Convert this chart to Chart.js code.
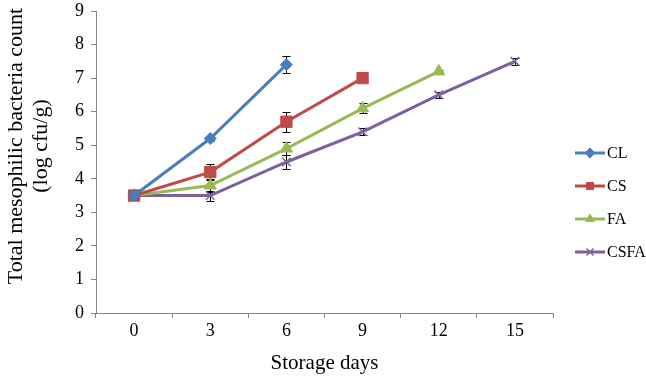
<!DOCTYPE html>
<html lang="en">
<head>
    <meta charset="UTF-8">
    <title>Total mesophilic bacteria count</title>
    <style>
        body { margin: 0; padding: 0; background: #ffffff; }
        .chart-box { width: 646px; height: 380px; position: relative; }
    </style>
</head>
<body>
    <div class="chart-box">
        <canvas id="bacteriaChart" width="646" height="380"></canvas>
    </div>

    <script src="https://cdn.jsdelivr.net/npm/chart.js"></script>
    <script>
        // Storage days on the x axis
        const days = ['0', '3', '6', '9', '12', '15'];
        const yTicks = [0, 1, 2, 3, 4, 5, 6, 7, 8, 9];
        const yTitleLines = ['Total mesophilic bacteria count', '(log cfu/g)'];

        // Means (log cfu/g)
        const clValues   = [3.5, 5.2, 7.4, null, null, null];
        const csValues   = [3.5, 4.2, 5.7, 7.0, null, null];
        const faValues   = [3.5, 3.8, 4.9, 6.1, 7.2, null];
        const csfaValues = [3.5, 3.5, 4.5, 5.4, 6.5, 7.5];

        // Error bar half-heights
        const clErrors   = [0.05, 0.08, 0.25, null, null, null];
        const csErrors   = [0.05, 0.25, 0.3, 0.05, null, null];
        const faErrors   = [0.05, 0.2, 0.2, 0.15, 0.05, null];
        const csfaErrors = [0.05, 0.15, 0.2, 0.1, 0.08, 0.1];

        const serif = "'Liberation Serif', 'Times New Roman', serif";

        function makeSeries(label, data, errors, color, pointStyle, radius) {
            return {
                label: label,
                data: data,
                errors: errors,
                borderColor: color,
                backgroundColor: color,
                pointBackgroundColor: color,
                pointBorderColor: color,
                borderWidth: 3,
                pointStyle: pointStyle,
                pointRadius: radius,
                pointBorderWidth: pointStyle === 'crossRot' ? 1.5 : 1,
                tension: 0,
                spanGaps: false
            };
        }

        // Vertical error bars with caps, drawn under the markers
        const errorBars = {
            id: 'errorBars',
            beforeDatasetsDraw(chart) {
                const c = chart.ctx;
                const yScale = chart.scales.y;
                c.save();
                c.strokeStyle = '#000000';
                c.lineWidth = 1;
                chart.data.datasets.forEach((ds, i) => {
                    const meta = chart.getDatasetMeta(i);
                    meta.data.forEach((pt, j) => {
                        const v = ds.data[j];
                        const e = ds.errors[j];
                        if (v == null || e == null) return;
                        const x = Math.round(pt.x) + 0.5;
                        const yTop = Math.round(yScale.getPixelForValue(v + e)) + 0.5;
                        const yBot = Math.round(yScale.getPixelForValue(v - e)) + 0.5;
                        c.beginPath();
                        c.moveTo(x, yTop); c.lineTo(x, yBot);
                        c.moveTo(x - 4, yTop); c.lineTo(x + 4, yTop);
                        c.moveTo(x - 4, yBot); c.lineTo(x + 4, yBot);
                        c.stroke();
                    });
                });
                c.restore();
            }
        };

        // Rotated two-line y title, centred a bit above the plot middle
        const yTitle = {
            id: 'yTitle',
            afterDraw(chart) {
                const c = chart.ctx;
                c.save();
                c.translate(0, 146);
                c.rotate(-Math.PI / 2);
                c.fillStyle = '#000000';
                c.font = '22px ' + serif;
                c.textAlign = 'center';
                c.textBaseline = 'middle';
                c.fillText(yTitleLines[0], 0, 16);
                c.fillText(yTitleLines[1], 0, 41);
                c.restore();
            }
        };

        // Legend drawn as line + marker, like the spreadsheet legend
        const lineLegend = {
            id: 'lineLegend',
            afterDraw(chart) {
                const c = chart.ctx;
                const x0 = 575, x1 = 605;
                const rowY = [153, 186, 219, 252];
                c.save();
                chart.data.datasets.forEach((ds, i) => {
                    const y = rowY[i];
                    c.strokeStyle = ds.borderColor;
                    c.fillStyle = ds.borderColor;
                    c.lineWidth = 3;
                    c.beginPath();
                    c.moveTo(x0, y); c.lineTo(x1, y);
                    c.stroke();
                    c.lineWidth = ds.pointBorderWidth;
                    Chart.helpers.drawPoint(c, {
                        pointStyle: ds.pointStyle,
                        radius: 5,
                        rotation: 0,
                        borderWidth: ds.pointBorderWidth
                    }, (x0 + x1) / 2, y);
                    c.fillStyle = '#000000';
                    c.font = '16px ' + serif;
                    c.textBaseline = 'middle';
                    c.textAlign = 'left';
                    c.fillText(ds.label, x1 + 2, y + 1);
                });
                c.restore();
            }
        };

        const ctx = document.getElementById('bacteriaChart').getContext('2d');
        new Chart(ctx, {
            type: 'line',
            data: {
                labels: days,
                datasets: [
                    makeSeries('CL', clValues, clErrors, '#4a7ebb', 'rectRot', 6),
                    makeSeries('CS', csValues, csErrors, '#be4b48', 'rect', 8),
                    makeSeries('FA', faValues, faErrors, '#98b954', 'triangle', 7),
                    makeSeries('CSFA', csfaValues, csfaErrors, '#7d60a0', 'crossRot', 6)
                ]
            },
            options: {
                responsive: false,
                animation: false,
                layout: { padding: { left: 0, right: 93, top: 11, bottom: 0 } },
                plugins: {
                    legend: { display: false },
                    tooltip: { enabled: false }
                },
                scales: {
                    x: {
                        type: 'category',
                        offset: true,
                        afterFit(scale) { scale.height = 67; },
                        grid: {
                            offset: true,
                            drawOnChartArea: false,
                            drawTicks: true,
                            tickLength: 5,
                            color: '#868686'
                        },
                        border: { color: '#868686', width: 1 },
                        ticks: {
                            color: '#000000',
                            font: { family: serif, size: 18 },
                            padding: 2,
                            maxRotation: 0
                        },
                        title: {
                            display: true,
                            text: 'Storage days',
                            color: '#000000',
                            font: { family: serif, size: 21 },
                            padding: { top: 9 }
                        }
                    },
                    y: {
                        min: 0,
                        max: 9,
                        afterFit(scale) {
                            scale.width = 96;
                            scale.paddingTop = 0;
                            scale.paddingBottom = 0;
                        },
                        afterBuildTicks(scale) {
                            scale.ticks = yTicks.map(v => ({ value: v }));
                        },
                        grid: {
                            drawOnChartArea: false,
                            drawTicks: true,
                            tickLength: 5,
                            color: '#868686'
                        },
                        border: { color: '#868686', width: 1 },
                        ticks: {
                            color: '#000000',
                            font: { family: serif, size: 18 },
                            padding: 7
                        }
                    }
                }
            },
            plugins: [errorBars, yTitle, lineLegend]
        });
    </script>
</body>
</html>
